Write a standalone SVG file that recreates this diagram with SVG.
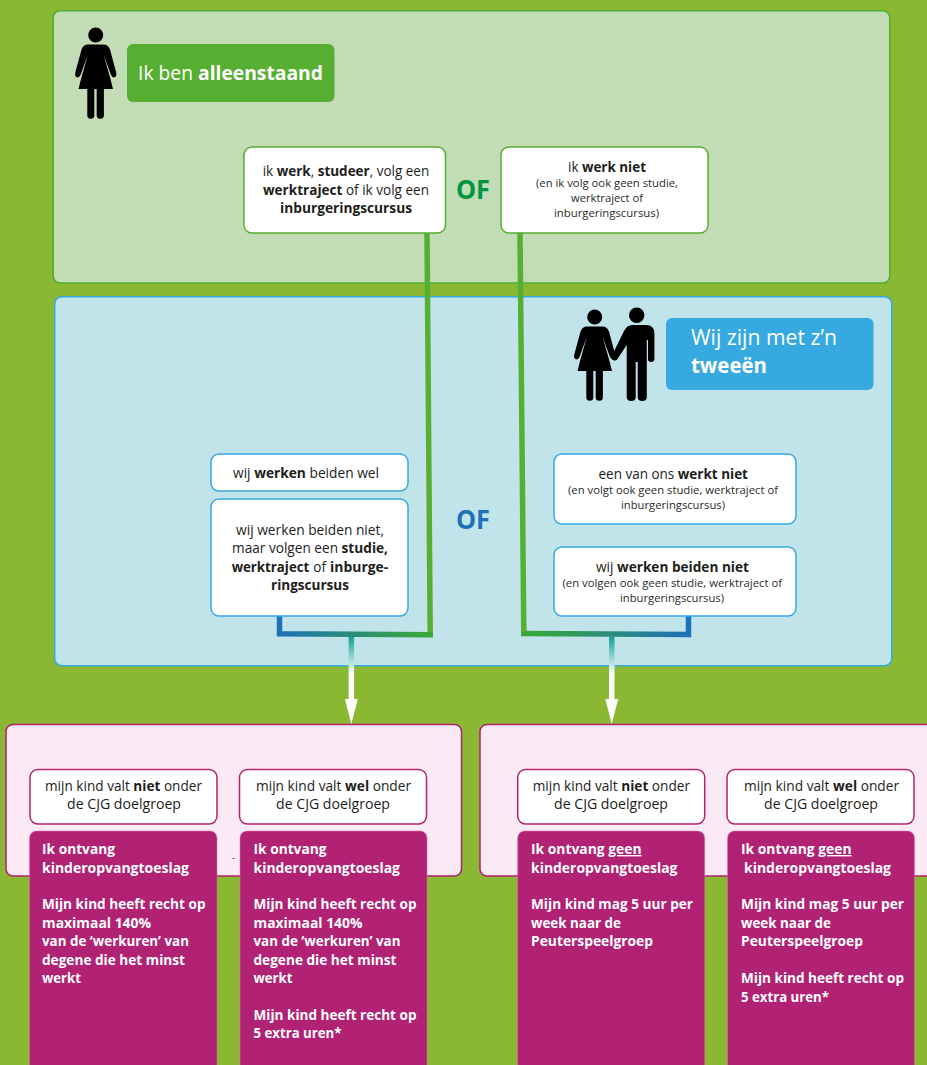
<svg xmlns="http://www.w3.org/2000/svg" xmlns:xlink="http://www.w3.org/1999/xlink" width="927" height="1065" viewBox="0 0 927 1065">
<style>
text{font-family:"Open Sans","Noto Sans","Liberation Sans",sans-serif;fill:#1d1d1b;font-size:14px}
.b{font-weight:700}
.s{font-size:11px;fill:#2a2a28}
.w{fill:#fff}
.h{font-size:20px;fill:#fff}
.of{font-size:26px;font-weight:700}
.p{font-size:14px;font-weight:700;fill:#fff}
.card{fill:#fff;stroke-width:1.5}
.g{stroke:#57AF31}.bl{stroke:#36A9E1}.m{stroke:#B2226F}
.purple{fill:#B12275;stroke:#D86AA8;stroke-width:.5}
.pink{fill:#FBE9F4;stroke:#B2226F;stroke-width:1.5}
.ln{fill:none;stroke-width:5.5;stroke-linejoin:miter}
</style>
<defs>
<linearGradient id="lg1" gradientUnits="userSpaceOnUse" x1="280" y1="0" x2="431" y2="0"><stop offset="0" stop-color="#1D71B8"/><stop offset="1" stop-color="#3AAA35"/></linearGradient>
<linearGradient id="lg2" gradientUnits="userSpaceOnUse" x1="524" y1="0" x2="689" y2="0"><stop offset="0" stop-color="#3AAA35"/><stop offset="1" stop-color="#1D71B8"/></linearGradient>
<linearGradient id="ar" gradientUnits="userSpaceOnUse" x1="0" y1="636" x2="0" y2="674"><stop offset="0" stop-color="#0B9E8F"/><stop offset="1" stop-color="#fff"/></linearGradient>
<g id="woman" fill="#000">
<circle cx="95.7" cy="35" r="7.5"/>
<path d="M88,44.5H103.5Q108,44.5 110,49.5L116.2,72.5Q117,76.5 114.5,77.3Q112.3,78 111,75L103.6,55L110.5,79L113,89H78.5L81,79L87.8,55L80.5,75Q79,78 77,77.3Q74.5,76.5 75.3,72.5L81.5,49.5Q83.5,44.5 88,44.5Z"/>
<rect x="87.3" y="86" width="7" height="32.8" rx="3.5"/>
<rect x="96.7" y="86" width="7.2" height="32.8" rx="3.5"/>
</g>
</defs>
<rect id="background" width="927" height="1065" fill="#8AB833"/>

<g id="panel-alleenstaand">
<rect x="53.2" y="10.7" width="836.6" height="272.3" rx="7" fill="#C2DDB5" stroke="#4FAE32" stroke-width="1.5"/>
<use xlink:href="#woman" href="#woman"/>
<rect x="127" y="44" width="207.5" height="58" rx="6" fill="#57AF31"/>
<text class="h" x="138" y="80" textLength="185" lengthAdjust="spacingAndGlyphs">Ik ben <tspan class="b">alleenstaand</tspan></text>
<text class="of" x="456" y="199" style="fill:#009640" textLength="34" lengthAdjust="spacingAndGlyphs">OF</text>
</g>

<g id="panel-tweeen">
<rect x="54.7" y="296.7" width="837" height="369" rx="7" fill="#C1E4EA" stroke="#36A9E1" stroke-width="1.5"/>
<g id="couple">
<use xlink:href="#woman" href="#woman" x="499" y="282"/>
<circle cx="636.7" cy="315.3" r="7.7"/>
<path d="M632,325H646Q654.4,325 654.4,333.5V359Q654.4,362 651.2,362Q648,362 648,359V340H646.8V397Q646.8,401 642.2,401Q637.7,401 637.7,397V362H635.7V397Q635.7,401 631.2,401Q626.7,401 626.7,397V345L617.5,359Q615.5,361.5 613,360Q610.5,358.5 612,355.5L624,331Q627,325 632,325Z"/>
</g>
<rect x="666" y="318" width="207.5" height="72" rx="6" fill="#36A9E1"/>
<text class="h" style="font-size:21px" x="691" y="345" textLength="146" lengthAdjust="spacingAndGlyphs">Wij zijn met z’n</text>
<text class="h b" style="font-size:21px" x="691" y="373" textLength="76" lengthAdjust="spacingAndGlyphs">tweeën</text>
<text class="of" x="456" y="529" style="fill:#1D71B8" textLength="34" lengthAdjust="spacingAndGlyphs">OF</text>
</g>

<g id="connectors">
<path class="ln" stroke="#57AF31" d="M427,233L430.2,632"/>
<path class="ln" stroke="#57AF31" d="M520,233L523.8,632"/>
<path class="ln" stroke="url(#lg1)" d="M279.5,616V633.7L430.2,634.8V632"/>
<path class="ln" stroke="url(#lg2)" d="M523.8,632V633.4L688.5,634.6V616"/>
<rect x="348.6" y="637" width="5.5" height="63" fill="url(#ar)"/>
<path d="M344.9,699H357.8L351.3,724Z" fill="#fff"/>
<rect x="609" y="637" width="5.5" height="63" fill="url(#ar)"/>
<path d="M605.3,699H618.2L611.7,724Z" fill="#fff"/>
</g>

<g id="node-werk">
<rect class="card g" x="244" y="147" width="201.5" height="86" rx="8"/>
<text x="262.7" y="176" textLength="166.5" lengthAdjust="spacingAndGlyphs">ik <tspan class="b">werk</tspan>, <tspan class="b">studeer</tspan>, volg een</text>
<text x="263" y="194.5" textLength="166" lengthAdjust="spacingAndGlyphs"><tspan class="b">werktraject</tspan> of ik volg een</text>
<text class="b" x="280" y="213" textLength="132" lengthAdjust="spacingAndGlyphs">inburgeringscursus</text>
</g>
<g id="node-werk-niet">
<rect class="card g" x="501" y="147" width="207" height="86" rx="8"/>
<text x="568" y="172" textLength="78" lengthAdjust="spacingAndGlyphs">ik <tspan class="b">werk niet</tspan></text>
<text class="s" x="536" y="187" textLength="142" lengthAdjust="spacingAndGlyphs">(en ik volg ook geen studie,</text>
<text class="s" x="571" y="202" textLength="72" lengthAdjust="spacingAndGlyphs">werktraject of</text>
<text class="s" x="554" y="217" textLength="105" lengthAdjust="spacingAndGlyphs">inburgeringscursus)</text>
</g>
<g id="node-beiden-wel">
<rect class="card bl" x="211" y="454" width="197" height="37" rx="8"/>
<text x="233" y="478" textLength="146" lengthAdjust="spacingAndGlyphs">wij <tspan class="b">werken</tspan> beiden wel</text>
</g>
<g id="node-beiden-studie">
<rect class="card bl" x="211" y="499" width="197" height="117" rx="8"/>
<text x="236" y="535" textLength="148" lengthAdjust="spacingAndGlyphs">wij werken beiden niet,</text>
<text x="232" y="553" textLength="156" lengthAdjust="spacingAndGlyphs">maar volgen een <tspan class="b">studie,</tspan></text>
<text y="572"><tspan class="b" x="231.7" textLength="77.6" lengthAdjust="spacingAndGlyphs">werktraject</tspan> <tspan x="313.3" textLength="12.7" lengthAdjust="spacingAndGlyphs">of</tspan> <tspan class="b" x="330" textLength="58.3" lengthAdjust="spacingAndGlyphs">inburge-</tspan></text>
<text class="b" x="271" y="590" textLength="78" lengthAdjust="spacingAndGlyphs">ringscursus</text>
</g>
<g id="node-een-werkt-niet">
<rect class="card bl" x="554" y="454" width="242" height="70" rx="8"/>
<text x="598.5" y="479" textLength="149.5" lengthAdjust="spacingAndGlyphs">een van ons <tspan class="b">werkt niet</tspan></text>
<text class="s" x="568" y="494" textLength="210" lengthAdjust="spacingAndGlyphs">(en volgt ook geen studie, werktraject of</text>
<text class="s" x="621" y="509" textLength="104" lengthAdjust="spacingAndGlyphs">inburgeringscursus)</text>
</g>
<g id="node-beiden-niet">
<rect class="card bl" x="554" y="547" width="242" height="69" rx="8"/>
<text x="596" y="572" textLength="153" lengthAdjust="spacingAndGlyphs">wij <tspan class="b">werken beiden niet</tspan></text>
<text class="s" x="562.5" y="587" textLength="219.5" lengthAdjust="spacingAndGlyphs">(en volgen ook geen studie, werktraject of</text>
<text class="s" x="620" y="602" textLength="104" lengthAdjust="spacingAndGlyphs">inburgeringscursus)</text>
</g>

<g id="panel-left">
<rect class="pink" x="6" y="724.5" width="455.5" height="151.5" rx="7"/>
<rect x="232.5" y="858" width="2" height="1" fill="#555"/>
<g id="left-niet">
<rect class="card m" x="30" y="769.5" width="187" height="54.5" rx="8"/>
<text x="45" y="791" textLength="157" lengthAdjust="spacingAndGlyphs">mijn kind valt <tspan class="b">niet</tspan> onder</text>
<text x="67" y="809" textLength="114" lengthAdjust="spacingAndGlyphs">de CJG doelgroep</text>
<rect class="purple" x="29.5" y="831" width="187.5" height="240" rx="7"/>
<text class="p" x="42" y="854" textLength="73" lengthAdjust="spacingAndGlyphs">Ik ontvang</text>
<text class="p" x="42" y="873" textLength="147" lengthAdjust="spacingAndGlyphs">kinderopvangtoeslag</text>
<text class="p" x="42" y="909" textLength="163.5" lengthAdjust="spacingAndGlyphs">Mijn kind heeft recht op</text>
<text class="p" x="42" y="928" textLength="109" lengthAdjust="spacingAndGlyphs">maximaal 140%</text>
<text class="p" x="42" y="946" textLength="147" lengthAdjust="spacingAndGlyphs">van de ‘werkuren’ van</text>
<text class="p" x="42" y="965" textLength="143" lengthAdjust="spacingAndGlyphs">degene die het minst</text>
<text class="p" x="42" y="983" textLength="39" lengthAdjust="spacingAndGlyphs">werkt</text>
</g>
<g id="left-wel">
<rect class="card m" x="239.5" y="769.5" width="187" height="54.5" rx="8"/>
<text x="256" y="791" textLength="155" lengthAdjust="spacingAndGlyphs">mijn kind valt <tspan class="b">wel</tspan> onder</text>
<text x="276" y="809" textLength="114" lengthAdjust="spacingAndGlyphs">de CJG doelgroep</text>
<rect class="purple" x="240" y="831" width="187" height="240" rx="7"/>
<text class="p" x="253.5" y="854" textLength="73" lengthAdjust="spacingAndGlyphs">Ik ontvang</text>
<text class="p" x="253.5" y="873" textLength="146.5" lengthAdjust="spacingAndGlyphs">kinderopvangtoeslag</text>
<text class="p" x="253.5" y="909" textLength="163" lengthAdjust="spacingAndGlyphs">Mijn kind heeft recht op</text>
<text class="p" x="253.5" y="928" textLength="109" lengthAdjust="spacingAndGlyphs">maximaal 140%</text>
<text class="p" x="253.5" y="946" textLength="147" lengthAdjust="spacingAndGlyphs">van de ‘werkuren’ van</text>
<text class="p" x="253.5" y="965" textLength="143" lengthAdjust="spacingAndGlyphs">degene die het minst</text>
<text class="p" x="253.5" y="983" textLength="39" lengthAdjust="spacingAndGlyphs">werkt</text>
<text class="p" x="253.5" y="1020" textLength="163" lengthAdjust="spacingAndGlyphs">Mijn kind heeft recht op</text>
<text class="p" x="253.5" y="1038" textLength="88" lengthAdjust="spacingAndGlyphs">5 extra uren*</text>
</g>
</g>

<g id="panel-right">
<rect class="pink" x="480" y="724.5" width="460" height="151.5" rx="7"/>
<g id="right-niet">
<rect class="card m" x="517.7" y="769.5" width="187" height="54.5" rx="8"/>
<text x="532.7" y="791" textLength="157.3" lengthAdjust="spacingAndGlyphs">mijn kind valt <tspan class="b">niet</tspan> onder</text>
<text x="554" y="809" textLength="114" lengthAdjust="spacingAndGlyphs">de CJG doelgroep</text>
<rect class="purple" x="517.7" y="831" width="187" height="240" rx="7"/>
<text class="p" x="531" y="854" textLength="110.5" lengthAdjust="spacingAndGlyphs">Ik ontvang <tspan text-decoration="underline">geen</tspan></text>
<text class="p" x="531" y="873" textLength="146.5" lengthAdjust="spacingAndGlyphs">kinderopvangtoeslag</text>
<text class="p" x="531" y="909" textLength="162" lengthAdjust="spacingAndGlyphs">Mijn kind mag 5 uur per</text>
<text class="p" x="531" y="928" textLength="90" lengthAdjust="spacingAndGlyphs">week naar de</text>
<text class="p" x="531" y="946" textLength="122" lengthAdjust="spacingAndGlyphs">Peuterspeelgroep</text>
</g>
<g id="right-wel">
<rect class="card m" x="727" y="769.5" width="187" height="54.5" rx="8"/>
<text x="744" y="791" textLength="155" lengthAdjust="spacingAndGlyphs">mijn kind valt <tspan class="b">wel</tspan> onder</text>
<text x="764" y="809" textLength="114" lengthAdjust="spacingAndGlyphs">de CJG doelgroep</text>
<rect class="purple" x="727.5" y="831" width="187" height="240" rx="7"/>
<text class="p" x="741" y="854" textLength="110.5" lengthAdjust="spacingAndGlyphs">Ik ontvang <tspan text-decoration="underline">geen</tspan></text>
<text class="p" x="744" y="873" textLength="147" lengthAdjust="spacingAndGlyphs">kinderopvangtoeslag</text>
<text class="p" x="741" y="909" textLength="163" lengthAdjust="spacingAndGlyphs">Mijn kind mag 5 uur per</text>
<text class="p" x="741" y="928" textLength="90" lengthAdjust="spacingAndGlyphs">week naar de</text>
<text class="p" x="741" y="946" textLength="122" lengthAdjust="spacingAndGlyphs">Peuterspeelgroep</text>
<text class="p" x="741" y="983" textLength="163" lengthAdjust="spacingAndGlyphs">Mijn kind heeft recht op</text>
<text class="p" x="741" y="1002" textLength="88" lengthAdjust="spacingAndGlyphs">5 extra uren*</text>
</g>
</g>
</svg>
